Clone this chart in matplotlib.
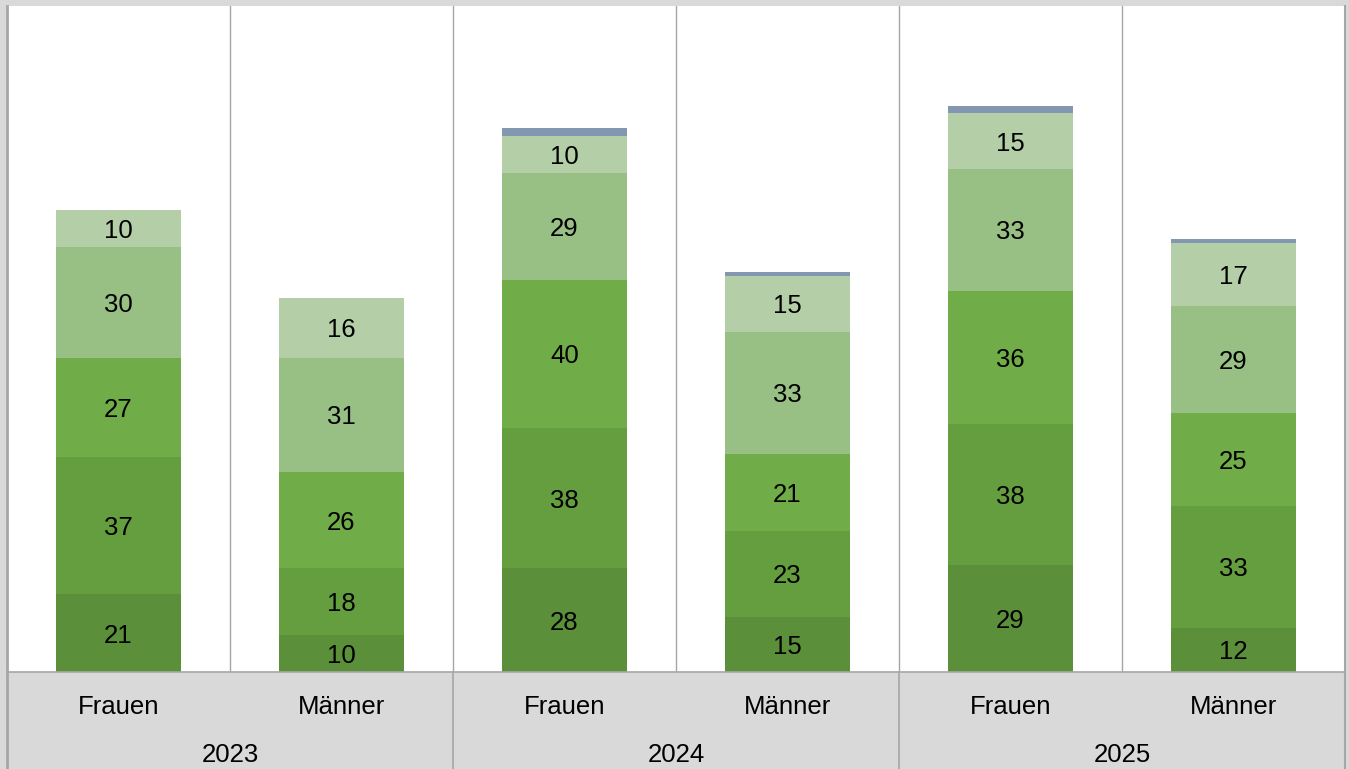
import matplotlib
matplotlib.use("Agg")
import matplotlib.pyplot as plt
from matplotlib.lines import Line2D
import numpy as np

plt.rcParams['font.family'] = ['Liberation Sans', 'DejaVu Sans']

years = ["2023", "2024", "2025"]
genders = ["Frauen", "Männer"]
seg1 = [21, 10, 28, 15, 29, 12]
seg2 = [37, 18, 38, 23, 38, 33]
seg3 = [27, 26, 40, 21, 36, 25]
seg4 = [30, 31, 29, 33, 33, 29]
seg5 = [10, 16, 10, 15, 15, 17]
seg6 = [0, 0, 2, 1, 2, 1]

series = [seg1, seg2, seg3, seg4, seg5, seg6]
colors = ["#5b8f3a", "#659e3f", "#70ac47", "#98bf84", "#b4cfa8", "#8497b0"]
show_labels = [True, True, True, True, True, False]

W, H = 1349, 769
fig = plt.figure(figsize=(W / 100, H / 100), dpi=100)
fig.patch.set_facecolor("#d9d9d9")

x0, x1, ytop, ybot = 7, 1345, 6, 672
ax = fig.add_axes([x0 / W, (H - ybot) / H, (x1 - x0) / W, (ybot - ytop) / H])
ax.set_facecolor("white")

n = len(seg1)
x = np.arange(n)
bottom = np.zeros(n)
for vals, col, lab in zip(series, colors, show_labels):
    vals = np.array(vals, dtype=float)
    ax.bar(x, vals, bottom=bottom, width=0.56, color=col, linewidth=0)
    if lab:
        for xi, v, b in zip(x, vals, bottom):
            if v > 0:
                ax.text(xi, b + v / 2, f"{int(v)}", ha="center", va="center_baseline",
                        fontsize=18.5, color="black")
    bottom += vals

ax.set_xlim(-0.5, n - 0.5)
ax.set_ylim(0, 180)
ax.set_xticks([])
ax.set_yticks([])
for s in ["top", "right", "left"]:
    ax.spines[s].set_visible(False)
ax.spines["bottom"].set_color("#a6a6a6")
ax.spines["bottom"].set_linewidth(1.2)

for b in np.arange(0.5, n - 0.5, 1.0):
    ax.axvline(b, color="#a6a6a6", linewidth=1.0)

# figure-level borders and year separators
def vline_px(xp, y0p, y1p, lw=1.2, color="#a6a6a6"):
    fig.add_artist(Line2D([xp / W, xp / W], [1 - y0p / H, 1 - y1p / H],
                          color=color, linewidth=lw, transform=fig.transFigure))

vline_px(6.5, 6, H, lw=2.0)
vline_px(1344.5, 6, H, lw=1.5)
cat_w = (x1 - x0) / n
for k in (2, 4):
    xp = x0 + k * cat_w
    vline_px(xp, ybot, H, lw=1.2)

for i in range(n):
    cx = (x0 + (i + 0.5) * cat_w) / W
    fig.text(cx, 1 - 704 / H, genders[i % 2], ha="center", va="center_baseline",
             fontsize=18.5, color="black")
for j, yr in enumerate(years):
    cx = (x0 + (2 * j + 1) * cat_w) / W
    fig.text(cx, 1 - 752 / H, yr, ha="center", va="center_baseline",
             fontsize=18.5, color="black")

fig.savefig("out.png", dpi=100, facecolor=fig.get_facecolor())
